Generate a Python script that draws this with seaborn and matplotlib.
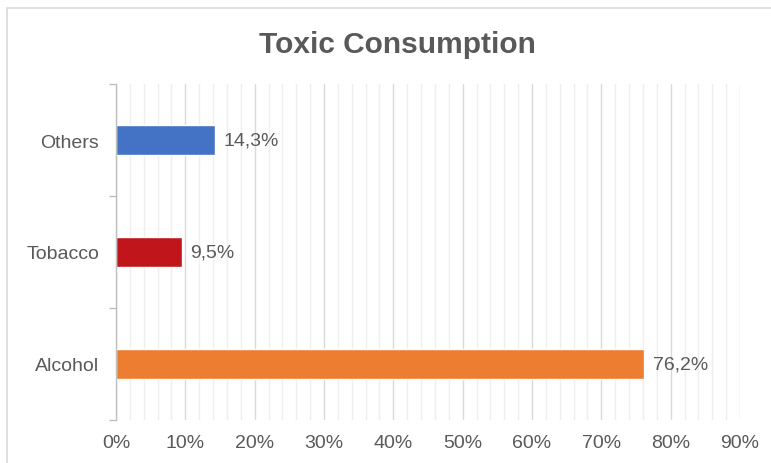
import matplotlib
matplotlib.use("Agg")
import pandas as pd
import seaborn as sns
from matplotlib import pyplot as plt
from matplotlib.patches import Rectangle
from matplotlib.ticker import MultipleLocator, FuncFormatter

categories = ["Others", "Tobacco", "Alcohol"]
values = [14.3, 9.5, 76.2]
colors = ["#4472C4", "#C0161B", "#ED7D31"]
x_ticks = [0, 10, 20, 30, 40, 50, 60, 70, 80, 90]

df = pd.DataFrame({"category": categories, "value": values})

sns.set_theme(style="white")
plt.rcParams["font.family"] = ["Liberation Sans", "DejaVu Sans"]

fig = plt.figure(figsize=(7.71, 4.64), dpi=100)
ax = fig.add_axes([0.1505, 0.0927, 0.8093, 0.7241])

sns.barplot(data=df, x="value", y="category", hue="category", palette=colors,
            order=categories, width=0.27, ax=ax, legend=False, saturation=1)

# Etiquetas de datos con coma decimal
for cont, v in zip(ax.containers, values):
    ax.bar_label(cont, labels=[f"{v:.1f}%".replace(".", ",")], padding=6,
                 fontsize=14, color="#595959")

ax.set_xlim(0, 90)
ax.set_ylim(2.5, -0.5)
ax.set_xticks(x_ticks)
ax.xaxis.set_major_formatter(FuncFormatter(lambda x, _: f"{int(x)}%"))
ax.xaxis.set_minor_locator(MultipleLocator(2))
ax.yaxis.set_minor_locator(MultipleLocator(1, offset=0.5))

ax.grid(which="major", axis="x", color="#d9d9d9", linewidth=1)
ax.grid(which="minor", axis="x", color="#efefef", linewidth=1)
ax.set_axisbelow(True)

for s in ["top", "right", "bottom"]:
    ax.spines[s].set_visible(False)
ax.spines["left"].set_color("#bfbfbf")
ax.spines["left"].set_linewidth(1)

ax.tick_params(axis="x", which="both", length=0, pad=10, labelsize=14, labelcolor="#595959")
ax.tick_params(axis="y", which="major", length=0, pad=12, labelsize=14, labelcolor="#595959")
ax.tick_params(axis="y", which="minor", length=5, color="#bfbfbf", width=1, left=True)

ax.set_xlabel("")
ax.set_ylabel("")

fig.text(0.515, 0.903, "Toxic Consumption", ha="center", va="center",
         fontsize=21.5, fontweight="bold", color="#595959")

# Marco del gráfico
fig.patches.append(Rectangle((7 / 771, -0.1), 1.2, 1.1 - 9 / 464, transform=fig.transFigure,
                             fill=False, edgecolor="#d9d9d9", linewidth=1.2))

fig.savefig("out.png", dpi=100)
